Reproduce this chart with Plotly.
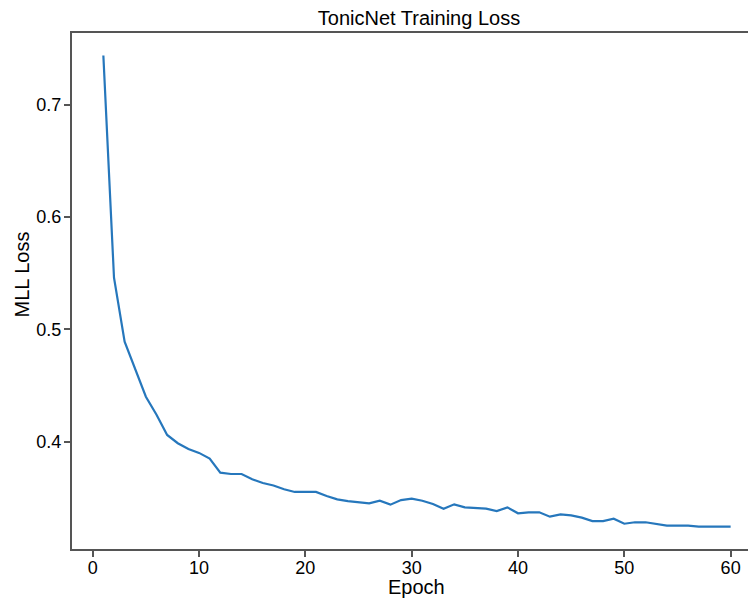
import plotly.graph_objects as go

epochs = list(range(1, 61))
loss = [0.744, 0.546, 0.489, 0.464, 0.440, 0.424, 0.406, 0.3986, 0.3935, 0.390,
        0.385, 0.3724, 0.3712, 0.3712, 0.3665, 0.3632, 0.361, 0.3576, 0.3552, 0.3552,
        0.3552, 0.3516, 0.3486, 0.3471, 0.346, 0.3451, 0.3474, 0.3439, 0.348, 0.3492,
        0.3474, 0.3445, 0.3403, 0.3442, 0.3415, 0.3406, 0.3403, 0.3382, 0.3415, 0.3362,
        0.3371, 0.3371, 0.3332, 0.3353, 0.3344, 0.3323, 0.3293, 0.3293, 0.3314, 0.3269,
        0.3282, 0.3282, 0.3264, 0.3252, 0.3252, 0.3252, 0.3243, 0.3243, 0.3243, 0.3243]
x_ticks = [0, 10, 20, 30, 40, 50, 60]
y_ticks = [0.4, 0.5, 0.6, 0.7]
y_tick_labels = ["0.4", "0.5", "0.6", "0.7"]
title_text = "TonicNet Training Loss"
x_label = "Epoch"
y_label = "MLL Loss"

font_family = "Liberation Sans, Arial, sans-serif"
axis_color = "#555555"

# figure pixel layout (page is offset by the 8px body margin)
W, H = 756, 600
ml, mr, mt, mb = 64, 2, 25, 59
pw, ph = W - ml - mr, H - mt - mb


def px_to_paper_x(px):
    return (px - ml) / pw


def px_to_paper_y(py):
    return (H - mb - py) / ph


fig = go.Figure()
fig.add_trace(go.Scatter(x=epochs, y=loss, mode="lines",
                         line=dict(color="#2677bc", width=2.2),
                         hoverinfo="skip"))

fig.update_layout(
    width=W, height=H,
    margin=dict(l=ml, r=mr, t=mt, b=mb, autoexpand=False),
    paper_bgcolor="white", plot_bgcolor="white",
    showlegend=False,
    font=dict(family=font_family, size=18, color="black"),
    title=dict(text=title_text, xref="container", x=411 / W, xanchor="center",
               yref="container", y=1 - 9.5 / H, yanchor="middle",
               font=dict(size=20, family=font_family, color="black")),
    annotations=[
        dict(text=x_label, xref="paper", yref="paper",
             x=px_to_paper_x(408), y=px_to_paper_y(579),
             xanchor="center", yanchor="middle", showarrow=False,
             font=dict(size=20, family=font_family, color="black")),
        dict(text=y_label, xref="paper", yref="paper",
             x=px_to_paper_x(13.5), y=px_to_paper_y(267), textangle=-90,
             xanchor="center", yanchor="middle", showarrow=False,
             font=dict(size=20, family=font_family, color="black")),
    ],
)
fig.update_xaxes(
    range=[-1.95, 62.95], tickvals=x_ticks, ticks="outside", ticklen=6, tickwidth=1.6,
    tickcolor=axis_color, showline=True, linecolor=axis_color, linewidth=2,
    mirror=True, showgrid=False, zeroline=False, automargin=False,
    tickfont=dict(size=18), ticklabelstandoff=-5,
)
fig.update_yaxes(
    range=[0.3044, 0.764], tickvals=y_ticks, ticktext=y_tick_labels, ticks="outside",
    ticklen=6, tickwidth=1.6, tickcolor=axis_color, showline=True, linecolor=axis_color,
    linewidth=2, mirror=True, showgrid=False, zeroline=False, automargin=False,
    tickfont=dict(size=18), ticklabelstandoff=-1,
)

fig.write_html("out.html")
